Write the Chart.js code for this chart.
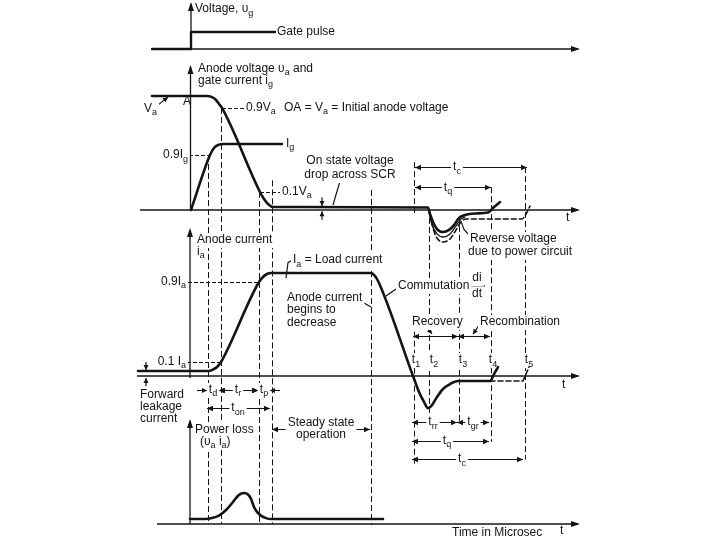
<!DOCTYPE html>
<html>
<head>
<meta charset="utf-8">
<script src="https://cdn.jsdelivr.net/npm/chart.js"></script>
<style>html,body{margin:0;padding:0;background:#fff}canvas{display:block}</style>
</head>
<body>
<canvas id="c" width="720" height="540"></canvas>
<script>
// ---- DATA (time in microseconds, arbitrary units; values normalised) ----
const gateTime = [-3.8, 0.1, 0.1, 8.5];
const gateVoltage = [0, 0, 1, 1];

const anodeVoltageTime = [-3.8, 1.7, 2.2, 2.6, 2.9, 3.2, 7.0, 7.4, 7.8, 8.3, 23.8, 24.0, 24.3, 24.7, 25.3, 25.9, 26.4, 26.9, 27.5, 28.5, 29.8, 30.4, 31.0];
const anodeVoltage = [1, 1, 0.99, 0.965, 0.93, 0.895, 0.158, 0.096, 0.053, 0.026, 0.022, -0.035, -0.105, -0.167, -0.193, -0.175, -0.132, -0.07, -0.044, -0.031, -0.022, 0.026, 0.07];

const reverseThinTime = [23.9, 24.2, 24.7, 25.3, 26.0, 26.6, 27.1, 27.5];
const reverseThin = [-0.018, -0.13, -0.21, -0.237, -0.21, -0.14, -0.08, -0.061];

const reverseDashedTime = [24.0, 24.3, 24.7, 25.3, 26.0, 26.6, 27.1, 27.6, 33.2, 33.6, 34.0];
const reverseDashed = [-0.035, -0.158, -0.246, -0.281, -0.254, -0.175, -0.105, -0.079, -0.079, -0.035, 0.035];

const gateCurrentTime = [0.1, 2.0, 2.4, 2.9, 3.3, 9.2];
const gateCurrent = [0, 0.833, 0.94, 0.99, 1, 1];

const anodeCurrentTime = [-5.2, 1.9, 2.4, 2.8, 3.1, 6.9, 7.3, 7.7, 8.1, 18.1, 18.5, 18.9, 22.3, 22.9, 23.4, 23.8, 24.2, 24.7, 25.3, 26.0, 26.8, 30.0, 30.4, 30.8];
const anodeCurrent = [0.049, 0.049, 0.068, 0.097, 0.136, 0.913, 0.961, 0.99, 1, 1, 0.971, 0.903, 0, -0.155, -0.252, -0.311, -0.282, -0.204, -0.126, -0.078, -0.049, -0.049, 0.019, 0.087];

const anodeCurrentDashedTime = [30.0, 33.3, 33.6, 33.9];
const anodeCurrentDashed = [-0.049, -0.049, 0.019, 0.087];

const powerLossTime = [0, 1.5, 2.2, 2.9, 3.6, 4.3, 4.9, 5.4, 5.8, 6.1, 6.4, 6.7, 7.1, 7.6, 8.1, 19.3];
const powerLoss = [0.16, 0.16, 0.19, 0.27, 0.45, 0.71, 0.94, 1.0, 0.95, 0.81, 0.55, 0.39, 0.27, 0.19, 0.16, 0.16];

// ---- LAYOUT (panel bands: pixel of zero and pixels per unit) ----
const CH = 540;
const panelBands = {
  yG:  {zero: 49,  unit: 17},
  yV:  {zero: 210, unit: 114},
  yIg: {zero: 210, unit: 66},
  yI:  {zero: 376, unit: 103},
  yP:  {zero: 524, unit: 31}
};

const panelAxes = [
  {axis: 'yG', h: [-3.8, 38.8], vt: 0.1, v: [0, 2.65]},
  {axis: 'yV', h: [-5.0, 38.8], vt: 0.05, v: [0, 1.254]},
  {axis: 'yI', h: [-5.3, 38.8], vt: 0.0, v: [-0.02, 1.417]},
  {axis: 'yP', h: [-3.3, 38.8], vt: 0.0, v: [0, 3.32]}
];

const guideLines = [
  {t: 1.8,  from: ['yIg', 0.833], to: ['yP', 0]},
  {t: 3.1,  from: ['yV', 0.895], to: ['yP', 0]},
  {t: 6.9,  from: ['yV', 0.158], to: ['yP', 0]},
  {t: 8.2,  from: ['yV', 0.26],  to: ['yP', 0]},
  {t: 18.1, from: ['yV', 0.175], to: ['yP', -0.03]},
  {t: 22.4, from: ['yV', 0.42],  to: ['yV', -0.05]},
  {t: 22.4, from: ['yI', 0.43],  to: ['yI', -0.86]},
  {t: 23.9, from: ['yV', -0.07], to: ['yI', -0.45]},
  {t: 26.9, from: ['yV', -0.06], to: ['yI', -0.45]},
  {t: 30.1, from: ['yV', 0.2],   to: ['yI', -0.64]},
  {t: 33.5, from: ['yV', 0.377], to: ['yI', -0.81]}
];

const levelLeaders = [
  {axis: 'yV',  t1: 3.2,  t2: 5.5, v: 0.895},
  {axis: 'yV',  t1: 7.0,  t2: 9.0, v: 0.158},
  {axis: 'yIg', t1: -0.1, t2: 2.0, v: 0.833},
  {axis: 'yI',  t1: -0.2, t2: 6.9, v: 0.913},
  {axis: 'yI',  t1: -0.3, t2: 3.1, v: 0.136}
];

const dimensionArrows = [
  {axis: 'yV', t1: 22.5, t2: 33.7, v: 0.377},
  {axis: 'yV', t1: 22.5, t2: 30.1, v: 0.2},
  {axis: 'yI', t1: 22.3, t2: 26.8, v: 0.388},
  {axis: 'yI', t1: 26.8, t2: 30.0, v: 0.388},
  {axis: 'yI', t1: 1.7, t2: 2.9, v: -0.136, outside: true},
  {axis: 'yI', t1: 2.9, t2: 6.8, v: -0.136},
  {axis: 'yI', t1: 6.8, t2: 8.0, v: -0.136, outside: true},
  {axis: 'yI', t1: 1.7, t2: 8.0, v: -0.311},
  {axis: 'yP', t1: 8.2, t2: 18.0, v: 3.06},
  {axis: 'yI', t1: 22.2, t2: 26.7, v: -0.447},
  {axis: 'yI', t1: 26.7, t2: 29.9, v: -0.447},
  {axis: 'yI', t1: 22.2, t2: 29.9, v: -0.631},
  {axis: 'yI', t1: 22.2, t2: 33.3, v: -0.806}
];

const leaderLines = [
  {axis: 'yV', pts: [[-3.5, 0.9], [-2.2, 0.99]], arrow: true},
  {axis: 'yV', pts: [[15.0, 0.254], [14.3, 0.044]]},
  {axis: 'yV', pts: [[13.2, 0.11], [13.2, 0.035]], arrow: true},
  {axis: 'yV', pts: [[13.2, -0.085], [13.2, -0.01]], arrow: true},
  {axis: 'yV', pts: [[28.0, -0.23], [27.4, -0.17], [27.1, -0.1]]},
  {axis: 'yI', pts: [[9.6, 0.95], [9.8, 1.1], [10.1, 1.12]]},
  {axis: 'yI', pts: [[16.7, 0.748], [18.1, 0.67]]},
  {axis: 'yI', pts: [[20.6, 0.845], [19.6, 0.777]]},
  {axis: 'yI', pts: [[23.6, 0.48], [24.2, 0.41]], arrow: true},
  {axis: 'yI', pts: [[28.8, 0.48], [28.3, 0.405]], arrow: true},
  {axis: 'yI', pts: [[27.9, 0.874], [29.5, 0.874]]},
  {axis: 'yI', pts: [[-4.4, 0.136], [-4.4, 0.058]], arrow: true},
  {axis: 'yI', pts: [[-4.4, -0.1], [-4.4, -0.02]], arrow: true}
];

const textLabels = [
  {text: 'Voltage, υ_g', axis: 'yG', t: 0.5, v: 2.35},
  {text: 'Gate pulse', axis: 'yG', t: 8.7, v: 1.0},
  {text: 'Anode voltage υ_a and', axis: 'yV', t: 0.8, v: 1.237},
  {text: 'gate current i_g', axis: 'yV', t: 0.8, v: 1.132},
  {text: 'V_a', axis: 'yV', t: -4.6, v: 0.886},
  {text: 'A', axis: 'yV', t: -0.7, v: 0.95},
  {text: '0.9V_a', axis: 'yV', t: 5.6, v: 0.895},
  {text: 'OA = V_a = Initial anode voltage', axis: 'yV', t: 9.4, v: 0.895},
  {text: '0.9I_g', axis: 'yIg', t: -0.2, v: 0.833, align: 'right'},
  {text: 'I_g', axis: 'yIg', t: 9.6, v: 1.0},
  {text: '0.1V_a', axis: 'yV', t: 9.2, v: 0.158},
  {text: 'On state voltage', axis: 'yV', t: 16.0, v: 0.43, align: 'center'},
  {text: 'drop across SCR', axis: 'yV', t: 16.0, v: 0.307, align: 'center'},
  {text: 't', axis: 'yV', t: 37.6, v: -0.07},
  {text: 't_c', axis: 'yV', t: 26.7, v: 0.377, align: 'center'},
  {text: 't_q', axis: 'yV', t: 25.8, v: 0.2, align: 'center'},
  {text: 'Reverse voltage', axis: 'yV', t: 28.0, v: -0.254},
  {text: 'due to power circuit', axis: 'yV', t: 27.8, v: -0.368},
  {text: 'Anode current', axis: 'yI', t: 0.7, v: 1.32},
  {text: 'i_a', axis: 'yI', t: 0.7, v: 1.204},
  {text: '0.9I_a', axis: 'yI', t: -0.4, v: 0.913, align: 'right'},
  {text: '0.1 I_a', axis: 'yI', t: -0.4, v: 0.136, align: 'right'},
  {text: 'I_a = Load current', axis: 'yI', t: 10.3, v: 1.126},
  {text: 'Anode current', axis: 'yI', t: 9.7, v: 0.757},
  {text: 'begins to', axis: 'yI', t: 9.7, v: 0.641},
  {text: 'decrease', axis: 'yI', t: 9.7, v: 0.515},
  {text: 'Commutation', axis: 'yI', t: 20.8, v: 0.874},
  {text: 'di', axis: 'yI', t: 28.7, v: 0.951, align: 'center'},
  {text: 'dt', axis: 'yI', t: 28.7, v: 0.8, align: 'center'},
  {text: 'Recovery', axis: 'yI', t: 22.2, v: 0.524},
  {text: 'Recombination', axis: 'yI', t: 29.0, v: 0.524},
  {text: 't_1', axis: 'yI', t: 22.6, v: 0.155, align: 'center'},
  {text: 't_2', axis: 'yI', t: 24.4, v: 0.155, align: 'center'},
  {text: 't_3', axis: 'yI', t: 27.3, v: 0.155, align: 'center'},
  {text: 't_4', axis: 'yI', t: 30.3, v: 0.155, align: 'center'},
  {text: 't_5', axis: 'yI', t: 33.9, v: 0.155, align: 'center'},
  {text: 't', axis: 'yI', t: 37.2, v: -0.087},
  {text: 'Forward', axis: 'yI', t: -5.0, v: -0.184},
  {text: 'leakage', axis: 'yI', t: -5.0, v: -0.301},
  {text: 'current', axis: 'yI', t: -5.0, v: -0.417},
  {text: 't_d', axis: 'yI', t: 2.3, v: -0.136, align: 'center'},
  {text: 't_r', axis: 'yI', t: 4.8, v: -0.136, align: 'center'},
  {text: 't_p', axis: 'yI', t: 7.4, v: -0.136, align: 'center'},
  {text: 't_{on}', axis: 'yI', t: 4.8, v: -0.311, align: 'center'},
  {text: 't_{rr}', axis: 'yI', t: 24.3, v: -0.447, align: 'center'},
  {text: 't_{gr}', axis: 'yI', t: 28.3, v: -0.447, align: 'center'},
  {text: 't_q', axis: 'yI', t: 25.7, v: -0.631, align: 'center'},
  {text: 't_c', axis: 'yI', t: 27.2, v: -0.806, align: 'center'},
  {text: 'Power loss', axis: 'yP', t: 0.5, v: 3.03},
  {text: '(υ_a i_a)', axis: 'yP', t: 1.0, v: 2.645},
  {text: 'Steady state', axis: 'yP', t: 13.1, v: 3.26, align: 'center'},
  {text: 'operation', axis: 'yP', t: 13.1, v: 2.87, align: 'center'},
  {text: 'Time in Microsec', axis: 'yP', t: 26.2, v: -0.29},
  {text: 't', axis: 'yP', t: 37.0, v: -0.226}
];

// ---- CHART ----
const INK = '#141414';
const FONT = '"Liberation Sans", Arial, sans-serif';
const MAIN_PX = 12, SUB_PX = 9;

function series(xs, ys, axis, width, dash, smooth) {
  return {
    data: xs.map((x, i) => ({x: x, y: ys[i]})),
    yAxisID: axis, showLine: true, borderColor: INK, backgroundColor: INK,
    borderWidth: width, borderDash: dash || [], pointRadius: 0, fill: false,
    borderJoinStyle: 'round', borderCapStyle: 'round',
    tension: smooth ? 0.4 : 0, cubicInterpolationMode: smooth ? 'monotone' : 'default'
  };
}

const datasets = [
  series(gateTime, gateVoltage, 'yG', 2.4, null, false),
  series(anodeVoltageTime, anodeVoltage, 'yV', 2.6, null, true),
  series(reverseThinTime, reverseThin, 'yV', 1.3, null, true),
  series(reverseDashedTime, reverseDashed, 'yV', 1.6, [5, 3], true),
  series(gateCurrentTime, gateCurrent, 'yIg', 2.6, null, true),
  series(anodeCurrentTime, anodeCurrent, 'yI', 2.6, null, true),
  series(anodeCurrentDashedTime, anodeCurrentDashed, 'yI', 1.6, [5, 3], false),
  series(powerLossTime, powerLoss, 'yP', 2.6, null, true)
];

const yScales = {};
Object.keys(panelBands).forEach(k => {
  const b = panelBands[k];
  yScales[k] = {type: 'linear', display: false, bounds: 'data',
    min: -(CH - b.zero) / b.unit, max: b.zero / b.unit};
});

function P(chart, axis, t, v) {
  return [chart.scales.x.getPixelForValue(t), chart.scales[axis].getPixelForValue(v)];
}
function head(ctx, x, y, ang, len, half) {
  ctx.save(); ctx.translate(x, y); ctx.rotate(ang);
  ctx.beginPath(); ctx.moveTo(0, 0); ctx.lineTo(-len, -half); ctx.lineTo(-len, half); ctx.closePath();
  ctx.fill(); ctx.restore();
}
function parseRich(s) {
  const segs = []; let buf = ''; let i = 0;
  while (i < s.length) {
    if (s[i] === '_') {
      if (buf) { segs.push({t: buf, sub: false}); buf = ''; }
      if (s[i + 1] === '{') { const j = s.indexOf('}', i); segs.push({t: s.slice(i + 2, j), sub: true}); i = j + 1; }
      else { segs.push({t: s[i + 1], sub: true}); i += 2; }
    } else { buf += s[i]; i++; }
  }
  if (buf) segs.push({t: buf, sub: false});
  return segs;
}
function layoutRich(ctx, s, x, align) {
  const segs = parseRich(s);
  let w = 0;
  segs.forEach(g => { ctx.font = (g.sub ? SUB_PX : MAIN_PX) + 'px ' + FONT; g.w = ctx.measureText(g.t).width; w += g.w; });
  const x0 = align === 'right' ? x - w : align === 'center' ? x - w / 2 : x;
  return {segs: segs, w: w, x0: x0};
}

const diagramPlugin = {
  id: 'diagram',
  beforeDatasetsDraw(chart) {
    const ctx = chart.ctx;
    ctx.save();
    ctx.strokeStyle = INK; ctx.fillStyle = INK;
    ctx.lineWidth = 1; ctx.setLineDash([6, 3]);
    guideLines.forEach(g => {
      const a = P(chart, g.from[0], g.t, g.from[1]);
      const b = P(chart, g.to[0], g.t, g.to[1]);
      ctx.beginPath(); ctx.moveTo(Math.round(a[0]) + 0.5, a[1]); ctx.lineTo(Math.round(b[0]) + 0.5, b[1]); ctx.stroke();
    });
    ctx.setLineDash([4, 2]);
    levelLeaders.forEach(l => {
      const a = P(chart, l.axis, l.t1, l.v), b = P(chart, l.axis, l.t2, l.v);
      ctx.beginPath(); ctx.moveTo(a[0], Math.round(a[1]) + 0.5); ctx.lineTo(b[0], Math.round(b[1]) + 0.5); ctx.stroke();
    });
    ctx.setLineDash([]);
    ctx.lineWidth = 1.1;
    dimensionArrows.forEach(d => {
      const a = P(chart, d.axis, d.t1, d.v), b = P(chart, d.axis, d.t2, d.v);
      const y = Math.round(a[1]) + 0.5;
      if (d.outside) {
        ctx.beginPath(); ctx.moveTo(a[0] - 10, y); ctx.lineTo(a[0], y); ctx.stroke();
        head(ctx, a[0], y, 0, 5, 2.5);
        ctx.beginPath(); ctx.moveTo(b[0] + 10, y); ctx.lineTo(b[0], y); ctx.stroke();
        head(ctx, b[0], y, Math.PI, 5, 2.5);
      } else {
        ctx.beginPath(); ctx.moveTo(a[0], y); ctx.lineTo(b[0], y); ctx.stroke();
        head(ctx, a[0], y, Math.PI, 6, 2.7);
        head(ctx, b[0], y, 0, 6, 2.7);
      }
    });
    ctx.lineWidth = 1.2;
    leaderLines.forEach(l => {
      const pts = l.pts.map(p => P(chart, l.axis, p[0], p[1]));
      ctx.beginPath(); ctx.moveTo(pts[0][0], pts[0][1]);
      pts.slice(1).forEach(p => ctx.lineTo(p[0], p[1]));
      ctx.stroke();
      if (l.arrow) {
        const n = pts.length, p1 = pts[n - 2], p2 = pts[n - 1];
        head(ctx, p2[0], p2[1], Math.atan2(p2[1] - p1[1], p2[0] - p1[0]), 5, 2.5);
      }
    });
    // label backgrounds first, then the text, so no box hides a neighbour
    const laid = textLabels.map(l => {
      const p = P(chart, l.axis, l.t, l.v);
      return Object.assign(layoutRich(ctx, l.text, p[0], l.align || 'left'), {y: p[1]});
    });
    ctx.fillStyle = '#fff';
    laid.forEach(o => ctx.fillRect(o.x0 - 2, o.y - 7, o.w + 4, 15));
    ctx.fillStyle = INK; ctx.textBaseline = 'middle'; ctx.textAlign = 'left';
    laid.forEach(o => {
      let x = o.x0;
      o.segs.forEach(g => {
        ctx.font = (g.sub ? SUB_PX : MAIN_PX) + 'px ' + FONT;
        ctx.fillText(g.t, x, g.sub ? o.y + 4 : o.y);
        x += g.w;
      });
    });
    ctx.restore();
  },
  afterDatasetsDraw(chart) {
    const ctx = chart.ctx;
    ctx.save();
    ctx.strokeStyle = INK; ctx.fillStyle = INK; ctx.lineWidth = 1.3;
    panelAxes.forEach(a => {
      const l = P(chart, a.axis, a.h[0], 0), r = P(chart, a.axis, a.h[1], 0);
      ctx.beginPath(); ctx.moveTo(l[0], l[1]); ctx.lineTo(r[0], r[1]); ctx.stroke();
      head(ctx, r[0] + 2, r[1], 0, 9, 3);
      const b = P(chart, a.axis, a.vt, a.v[0]), t = P(chart, a.axis, a.vt, a.v[1]);
      ctx.beginPath(); ctx.moveTo(b[0], b[1]); ctx.lineTo(t[0], t[1]); ctx.stroke();
      head(ctx, t[0], t[1] - 2, -Math.PI / 2, 9, 3);
    });
    ctx.restore();
  }
};

new Chart(document.getElementById('c'), {
  type: 'scatter',
  data: {datasets: datasets},
  options: {
    responsive: false, animation: false, devicePixelRatio: 1, events: [],
    layout: {padding: 0},
    plugins: {legend: {display: false}, tooltip: {enabled: false}, title: {display: false}},
    scales: Object.assign({x: {type: 'linear', display: false, bounds: 'data', min: -19, max: 53}}, yScales)
  },
  plugins: [diagramPlugin]
});
</script>
</body>
</html>
